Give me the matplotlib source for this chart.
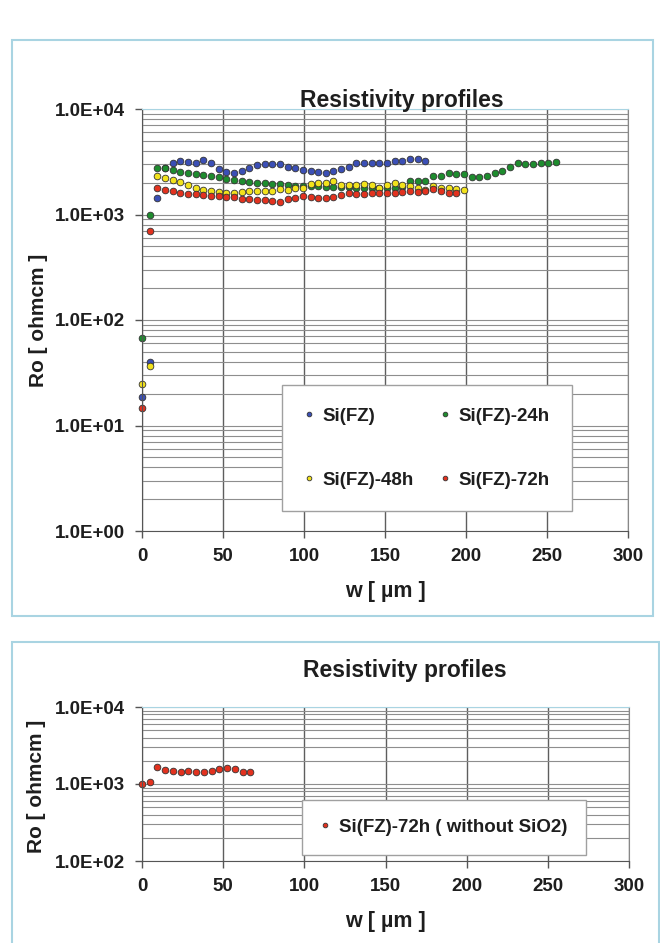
import numpy as np
import matplotlib
matplotlib.use("Agg")
import matplotlib.pyplot as plt
from matplotlib.patches import Rectangle
from matplotlib.ticker import FuncFormatter, MultipleLocator, LogLocator

plt.rcParams['font.family'] = ['Liberation Sans', 'DejaVu Sans']
plt.rcParams['font.weight'] = 'bold'

# depth profiles, w in um, Ro in ohm*cm
w_fz = [0, 4.7, 9.5, 14.2, 18.9, 23.7, 28.4, 33.1, 37.8, 42.6, 47.3, 52.0, 56.8,
        61.5, 66.2, 70.9, 75.7, 80.4, 85.1, 89.9, 94.6, 99.3, 104.1, 108.8, 113.5,
        118.2, 123.0, 127.7, 132.4, 137.2, 141.9, 146.6, 151.4, 156.1, 160.8,
        165.5, 170.3, 175.0]
ro_fz = [18.8, 40, 1425, 2750, 3060, 3240, 3160, 3100, 3290, 3060, 2680, 2550, 2460,
         2600, 2740, 2950, 2990, 2990, 2990, 2840, 2750, 2640, 2600, 2510, 2490,
         2600, 2680, 2840, 3060, 3060, 3060, 3100, 3100, 3240, 3240,
         3330, 3330, 3240]

w_24h = [0, 4.7, 9.5, 14.2, 18.9, 23.7, 28.4, 33.1, 37.8, 42.6, 47.3, 52.0, 56.8,
         61.5, 66.2, 70.9, 75.7, 80.4, 85.1, 89.9, 94.6, 99.3, 104.1, 108.8, 113.5,
         118.2, 123.0, 127.7, 132.4, 137.2, 141.9, 146.6, 151.4, 156.1, 160.8,
         165.5, 170.3, 175.0, 179.7, 184.5, 189.2, 193.9, 198.7, 203.4, 208.1,
         212.9, 217.6, 222.3, 227.0, 231.8, 236.5, 241.2, 246.0, 250.7, 255.4]
ro_24h = [67, 990, 2780, 2780, 2640, 2545, 2455, 2404, 2366, 2317, 2254, 2170, 2124,
          2090, 2047, 2010, 1977, 1950, 1930, 1905, 1880, 1880, 1860, 1850, 1840,
          1840, 1830, 1820, 1800, 1800, 1800, 1790, 1790, 1800, 1820,
          2090, 2090, 2090, 2320, 2320, 2450, 2400, 2400, 2280, 2280,
          2300, 2450, 2600, 2840, 3060, 3020, 3020, 3060, 3100, 3150]

w_48h = [0, 4.7, 9.5, 14.2, 18.9, 23.7, 28.4, 33.1, 37.8, 42.6, 47.3, 52.0, 56.8,
         61.5, 66.2, 70.9, 75.7, 80.4, 85.1, 89.9, 94.6, 99.3, 104.1, 108.8, 113.5,
         118.2, 123.0, 127.7, 132.4, 137.2, 141.9, 146.6, 151.4, 156.1, 160.8,
         165.5, 170.3, 175.0, 179.7, 184.5, 189.2, 193.9, 198.7]
ro_48h = [24.6, 37, 2320, 2200, 2120, 2050, 1900, 1770, 1710, 1670, 1650, 1600, 1600,
          1640, 1670, 1670, 1670, 1670, 1730, 1710, 1770, 1800, 1930, 1980, 2000,
          2080, 1900, 1900, 1900, 1930, 1900, 1800, 1900, 2000, 1900,
          1860, 1800, 1710, 1860, 1770, 1770, 1730, 1710]

w_72h = [0, 4.7, 9.5, 14.2, 18.9, 23.7, 28.4, 33.1, 37.8, 42.6, 47.3, 52.0, 56.8,
         61.5, 66.2, 70.9, 75.7, 80.4, 85.1, 89.9, 94.6, 99.3, 104.1, 108.8, 113.5,
         118.2, 123.0, 127.7, 132.4, 137.2, 141.9, 146.6, 151.4, 156.1, 160.8,
         165.5, 170.3, 175.0, 179.7, 184.5, 189.2, 193.9]
ro_72h = [14.7, 700, 1770, 1710, 1670, 1590, 1560, 1560, 1530, 1500, 1500, 1460, 1460,
          1390, 1390, 1370, 1370, 1340, 1320, 1390, 1420, 1500, 1470, 1445, 1445,
          1470, 1530, 1585, 1560, 1560, 1585, 1585, 1610, 1610, 1640, 1680,
          1640, 1680, 1730, 1680, 1610, 1610]

# 72h sample, oxide removed
w_72h_nox = [0, 5.0, 9.5, 14.3, 19.0, 23.8, 28.6, 33.4, 38.2, 43.0, 47.7, 52.5,
             57.3, 62.1, 66.8]
ro_72h_nox = [1000, 1070, 1680, 1515, 1475, 1445, 1475, 1445, 1445, 1475, 1565,
              1590, 1550, 1430, 1430]

series = [
    (w_fz, ro_fz, '#3b4fb5', 'Si(FZ)'),
    (w_24h, ro_24h, '#1e8c2e', 'Si(FZ)-24h'),
    (w_48h, ro_48h, '#f2e21c', 'Si(FZ)-48h'),
    (w_72h, ro_72h, '#e2321f', 'Si(FZ)-72h'),
]

TXT = '#1e1e1e'
BORDER = '#a9d4e2'
W, H = 660, 943


def px_rect(x0, y0, x1, y1):
    """pixel box (top-left origin) -> figure fraction rect"""
    return [x0 / W, 1 - y1 / H, (x1 - x0) / W, (y1 - y0) / H]


def style_axes(ax, ylim):
    ax.set_yscale('log')
    ax.set_xlim(0, 300)
    ax.set_ylim(*ylim)
    ax.xaxis.set_major_locator(MultipleLocator(50))
    ax.yaxis.set_major_locator(LogLocator(base=10))
    ax.yaxis.set_minor_locator(LogLocator(base=10, subs=np.arange(2, 10)))
    ax.yaxis.set_minor_formatter(FuncFormatter(lambda v, p: ''))
    ax.yaxis.set_major_formatter(FuncFormatter(lambda v, p: f'{v:.1E}'))
    ax.grid(True, which='major', axis='x', color='#5e5e5e', lw=1.0)
    ax.grid(True, which='both', axis='y', color='#8e8e8e', lw=0.8)
    ax.set_axisbelow(True)
    ax.tick_params(axis='both', which='major', length=5, width=1, color='#555',
                   labelsize=13.5, labelcolor=TXT, pad=7)
    ax.tick_params(axis='y', which='minor', length=0)
    for s in ('left', 'bottom'):
        ax.spines[s].set_color('#555')
    ax.spines['right'].set_color('#888')
    ax.spines['top'].set_color(BORDER)


fig = plt.figure(figsize=(W / 100, H / 100), dpi=100)
fig.patch.set_facecolor('white')

# panel frames
for box in (px_rect(12, 40, 653, 616), px_rect(12, 642, 659, 960)):
    fig.patches.append(Rectangle((box[0], box[1]), box[2], box[3],
                                 transform=fig.transFigure, fill=False,
                                 ec=BORDER, lw=1.5))

# upper chart
ax1 = fig.add_axes(px_rect(142, 109, 628, 531))
style_axes(ax1, (1, 1e4))
handles = {}
for w, ro, c, lab in series:
    h, = ax1.plot(w, ro, 'o', ms=4.8, mfc=c, mec='#333', mew=0.6, label=lab,
                  clip_on=False)
    handles[lab] = h
order = ['Si(FZ)', 'Si(FZ)-48h', 'Si(FZ)-24h', 'Si(FZ)-72h']
leg = ax1.legend([handles[k] for k in order], order, ncol=2, loc='upper left',
                 bbox_to_anchor=(0.288, 0.346), borderaxespad=0, fontsize=13.5,
                 markerscale=0.7, handlelength=0.5, handletextpad=0.45,
                 columnspacing=1.45, labelspacing=2.5, borderpad=1.2,
                 fancybox=False, framealpha=1, edgecolor='#a0a0a0')
leg.get_frame().set_linewidth(1.0)
for t in leg.get_texts():
    t.set_color(TXT)

fig.text(402 / W, 1 - 101 / H, 'Resistivity profiles', ha='center', va='center',
         fontsize=16.5, color=TXT)
fig.text(385 / W, 1 - 591 / H, 'w [ µm ]', ha='center', va='center',
         fontsize=15.5, color=TXT)
fig.text(38 / W, 1 - 320 / H, 'Ro [ ohmcm ]', ha='center', va='center',
         rotation=90, fontsize=15, color=TXT)

# lower chart
ax2 = fig.add_axes(px_rect(142, 707, 629, 861))
style_axes(ax2, (100, 1e4))
ax2.plot(w_72h_nox, ro_72h_nox, 'o', ms=4.8, mfc='#e2321f', mec='#333', mew=0.6,
         label='Si(FZ)-72h ( without SiO2)', clip_on=False)
leg2 = ax2.legend(loc='upper left', bbox_to_anchor=(0.3286, 0.396), borderaxespad=0,
                  fontsize=13.5, markerscale=0.7, handlelength=0.5,
                  handletextpad=0.45, borderpad=1.0, fancybox=False, framealpha=1,
                  edgecolor='#a0a0a0')
leg2.get_frame().set_linewidth(1.0)
for t in leg2.get_texts():
    t.set_color(TXT)

fig.text(405 / W, 1 - 671 / H, 'Resistivity profiles', ha='center', va='center',
         fontsize=16.5, color=TXT)
fig.text(385 / W, 1 - 922 / H, 'w [ µm ]', ha='center', va='center',
         fontsize=15.5, color=TXT)
fig.text(36 / W, 1 - 786 / H, 'Ro [ ohmcm ]', ha='center', va='center',
         rotation=90, fontsize=15, color=TXT)

fig.savefig('out.png', dpi=100)
